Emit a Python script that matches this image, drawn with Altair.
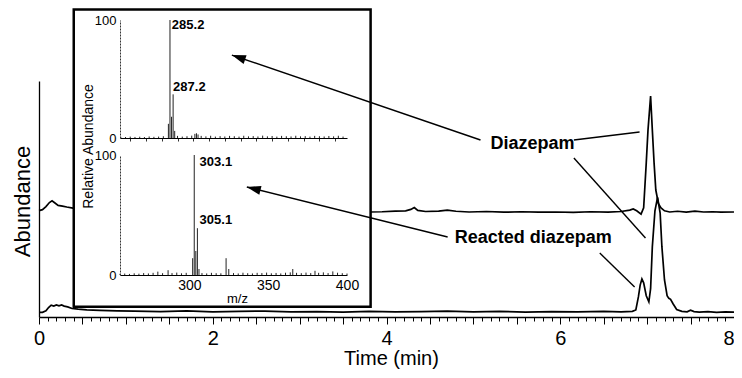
import altair as alt
import pandas as pd

FONT = "Liberation Sans"

# ---------------- main chromatogram (time in min, abundance in arbitrary %) -------------
UPPER_T = [0.00, 0.04, 0.08, 0.12, 0.15, 0.18, 0.22, 0.27, 0.32, 0.39, 3.81, 3.95, 4.10,
           4.22, 4.28, 4.32, 4.36, 4.45, 4.60, 4.70, 4.80, 4.95, 5.15, 5.35, 5.55, 5.75,
           5.95, 6.15, 6.35, 6.55, 6.70, 6.80, 6.84, 6.88, 6.93, 6.96, 6.99, 7.01, 7.04,
           7.06, 7.08, 7.10, 7.13, 7.16, 7.20, 7.26, 7.35, 7.45, 7.55, 7.65, 7.75, 7.85, 8.00]
UPPER_V = [45.1, 45.5, 46.8, 48.5, 49.2, 48.4, 47.3, 47.0, 46.6, 46.1, 44.5, 44.6, 44.9,
           45.0, 45.6, 46.4, 45.2, 44.7, 44.9, 45.3, 44.8, 44.5, 44.7, 44.4, 44.6, 44.4,
           44.5, 44.3, 44.6, 44.4, 44.7, 45.3, 45.8, 45.0, 43.6, 46.3, 65.3, 79.2, 93.6,
           79.2, 65.3, 53.8, 48.0, 46.2, 45.0, 44.5, 44.8, 44.4, 44.9, 44.5, 44.6, 44.4, 44.5]

LOWER_T = [0.00, 0.04, 0.08, 0.11, 0.14, 0.17, 0.20, 0.23, 0.26, 0.29, 0.33, 0.38, 0.45,
           0.55, 0.70, 0.90, 1.10, 1.40, 1.70, 2.00, 2.30, 2.60, 2.90, 3.20, 3.50, 3.80,
           4.10, 4.40, 4.70, 5.00, 5.30, 5.60, 5.90, 6.20, 6.50, 6.70, 6.83, 6.87, 6.90,
           6.92, 6.94, 6.96, 6.99, 7.02, 7.04, 7.06, 7.09, 7.12, 7.15, 7.17, 7.20, 7.23,
           7.25, 7.27, 7.30, 7.34, 7.40, 7.46, 7.50, 7.54, 7.60, 7.70, 7.80, 7.90, 8.00]
LOWER_V = [2.0, 2.0, 2.6, 4.0, 5.0, 4.6, 5.1, 4.7, 5.1, 4.6, 4.3, 3.6, 3.3,
           3.0, 2.8, 2.6, 2.5, 2.3, 2.6, 2.2, 2.4, 2.5, 2.2, 2.3, 2.1, 2.4,
           2.2, 2.3, 2.5, 2.2, 2.4, 2.1, 2.3, 2.2, 2.4, 2.2, 2.4, 3.0, 8.6,
           13.5, 16.1, 14.5, 9.0, 6.4, 12.0, 29.8, 45.0, 50.7, 44.0, 29.8, 15.7, 9.0,
           7.9, 7.5, 5.5, 3.2, 2.4, 2.2, 2.9, 2.3, 2.1, 2.3, 2.0, 2.2, 2.1]

COMPOUNDS = ["Diazepam", "Reacted diazepam"]
COMPOUND_T = [5.68, 5.69]
COMPOUND_V = [73.3, 33.5]

CALLOUT_T1 = [5.082, 6.157, 6.157, 4.704, 6.455]
CALLOUT_V1 = [75.0, 75.0, 67.4, 33.9, 27.1]
CALLOUT_T2 = [2.220, 6.913, 6.981, 2.392, 6.856]
CALLOUT_V2 = [111.0, 78.4, 33.5, 55.1, 12.7]

ARROW_T = [2.220, 2.392]
ARROW_V = [111.0, 55.1]
ARROW_ANGLE = [289, 284]

INSET_T = [0.40, 3.817]
INSET_V = [4.36, 130.3]

TIME_TICKS = [round(i * 0.1, 1) for i in range(81)]

# ---------------- inset mass spectra (m/z, relative abundance %) -----------------------
TOP_MZ = [254, 257, 260, 263, 266, 269, 272, 275, 278, 281, 284.2, 285.2, 286.2, 287.2,
          288.2, 290, 293, 296, 299, 301, 302, 303, 305, 308, 311, 314, 317, 320, 323,
          326, 329, 332, 335, 338, 341, 344, 347, 350, 353, 356, 359, 362, 365, 368,
          371, 374, 377, 380, 383, 386, 389, 392, 395]
TOP_INT = [1.0, 0.8, 1.2, 0.9, 1.1, 0.8, 1.3, 1.0, 1.2, 1.5, 12, 100, 18, 37,
           6, 1.8, 1.2, 1.5, 2.0, 3.5, 4.0, 3.0, 1.8, 1.4, 1.9, 1.2, 1.6, 1.3, 1.8,
           1.5, 1.2, 1.9, 1.4, 1.6, 1.3, 2.0, 1.4, 1.7, 1.2, 1.8, 1.5, 1.3, 1.9, 1.4,
           1.6, 1.2, 1.8, 1.5, 1.3, 1.7, 1.4, 1.9, 1.2]

BOT_MZ = [256, 259, 262, 265, 268, 271, 274, 277, 280, 283, 286.5, 289, 292, 295, 298,
          302.1, 303.1, 304.1, 305.1, 306.1, 308, 311, 314, 317, 320, 323.3, 325, 328,
          331, 334, 337, 340, 343, 346, 349, 352, 355, 358, 361, 364, 365.6, 368, 371,
          374, 377, 379.7, 382, 385, 388, 391, 394, 397, 400]
BOT_INT = [1.0, 1.2, 0.9, 1.4, 1.1, 1.6, 1.3, 1.8, 2.8, 1.5, 4.0, 1.6, 2.0, 1.4, 1.8,
           14, 100, 20, 39, 5, 1.6, 1.3, 1.8, 1.5, 1.4, 14, 5, 1.6,
           1.3, 1.9, 1.5, 1.3, 1.8, 1.6, 2.0, 1.4, 1.7, 1.3, 1.9, 2.2, 5.0, 1.8, 1.5,
           2.0, 1.6, 3.5, 1.8, 2.2, 1.6, 3.0, 1.9, 1.5, 1.2]

TOP_PEAK_LABELS = ["285.2", "287.2"]
TOP_PEAK_X = [286.4, 287.2]
TOP_PEAK_Y = [96, 43]
BOT_PEAK_LABELS = ["303.1", "305.1"]
BOT_PEAK_X = [306.5, 306.5]
BOT_PEAK_Y = [94, 46]

TOP_TICKS = [260, 270, 280, 290, 300, 310, 320, 330, 340, 350, 360, 370, 380, 390]
BOT_LABEL_VALUES = [300, 350, 400]

# ---------------- main layer ----------------
xs = alt.Scale(domain=[0, 8], nice=False, zero=False)
ys = alt.Scale(domain=[0, 100], nice=False, zero=False)

x_axis = alt.Axis(
    values=TIME_TICKS, title="Time (min)", grid=False,
    labelExpr="abs(datum.value/2 - round(datum.value/2)) < 0.001 ? format(datum.value, 'd') : ''",
    tickSize={"condition": {"test": "abs(datum.value*2 - round(datum.value*2)) < 0.001", "value": 7}, "value": 4},
    labelAlign={"condition": {"test": "datum.value > 7.95", "value": "right"}, "value": "center"},
    tickColor="black", tickWidth=1, domainColor="black", domainWidth=1.3,
    labelFont=FONT, labelFontSize=20, labelColor="black", labelPadding=4,
    labelOverlap=False, labelFlush=False, labelBound=False,
    titleFont=FONT, titleFontSize=20, titleFontWeight="normal", titleColor="black",
    titleX=352, titleY=47, titleAlign="center", titleBaseline="alphabetic",
)
y_axis = alt.Axis(
    title="Abundance", labels=False, ticks=False, grid=False,
    domainColor="black", domainWidth=1.3,
    titleFont=FONT, titleFontSize=22, titleFontWeight="normal", titleColor="black",
    titleAngle=270, titleX=-10, titleY=120, titleAlign="center", titleBaseline="alphabetic",
)

X = alt.X("t:Q", scale=xs, axis=x_axis)
Y = alt.Y("v:Q", scale=ys, axis=y_axis)

traces = pd.DataFrame({
    "t": UPPER_T + LOWER_T,
    "v": UPPER_V + LOWER_V,
    "trace": ["upper"] * len(UPPER_T) + ["lower"] * len(LOWER_T),
})
lines = alt.Chart(traces).mark_line(color="black", strokeWidth=1.7).encode(
    x=X, y=Y, detail="trace:N")

box_df = pd.DataFrame({"t": [INSET_T[0]], "t2": [INSET_T[1]], "v": [INSET_V[0]], "v2": [INSET_V[1]]})
box = alt.Chart(box_df).mark_rect(fill="white", stroke="black", strokeWidth=2.5).encode(
    x=X, x2="t2:Q", y=Y, y2="v2:Q")

callout_df = pd.DataFrame({"t": CALLOUT_T1, "v": CALLOUT_V1, "t2": CALLOUT_T2, "v2": CALLOUT_V2})
callouts = alt.Chart(callout_df).mark_rule(color="black", strokeWidth=1.4).encode(
    x=X, x2="t2:Q", y=Y, y2="v2:Q")

head_df = pd.DataFrame({"t": ARROW_T, "v": ARROW_V, "angle": ARROW_ANGLE})
heads = alt.Chart(head_df).mark_point(
    shape="M0,0L-0.65,2L0.65,2Z", filled=True, color="black", size=196, opacity=1, strokeWidth=0
).encode(x=X, y=Y, angle=alt.Angle("angle:Q", scale=None))

comp_df = pd.DataFrame({"t": COMPOUND_T, "v": COMPOUND_V, "label": COMPOUNDS})
comp_text = alt.Chart(comp_df).mark_text(
    font=FONT, fontSize=18, fontWeight="bold", color="black", align="center", baseline="middle"
).encode(x=X, y=Y, text="label:N")

main = alt.layer(lines, box, callouts, heads, comp_text)

# ---------------- inset panels ----------------
def inset_y_axis(title=None):
    kw = dict(orient="left", offset=-81, values=[0, 100], ticks=False, grid=False,
              domainColor="#333", domainWidth=1, domainDash=[2, 1],
              labelFont=FONT, labelFontSize=13, labelColor="black", labelPadding=4,
              labelFlush=False, labelOverlap=False, zindex=1)
    if title is None:
        kw["title"] = None
    else:
        kw.update(title=title, titleFont=FONT, titleFontSize=14, titleFontWeight="normal",
                  titleColor="black", titleAngle=270, titleX=-28, titleY=65,
                  titleAlign="center", titleBaseline="alphabetic")
    return alt.Axis(**kw)

# top spectrum
tx = alt.Scale(domain=[253.5, 397.5], range=[81, 308], nice=False, zero=False)
ty = alt.Scale(domain=[0, 100], range=[57, -61], nice=False, zero=False)
top_x_axis = alt.Axis(orient="bottom", offset=-179, values=TOP_TICKS, labels=False,
                      tickSize=3, tickColor="#333", domainColor="black", domainWidth=1,
                      grid=False, title=None, zindex=1)
top_y_axis = inset_y_axis()
TX = alt.X("mz:Q", scale=tx, axis=top_x_axis)
TY = alt.Y("rel:Q", scale=ty, axis=top_y_axis)

top_df = pd.DataFrame({"mz": TOP_MZ, "rel": TOP_INT})
top_sticks = alt.Chart(top_df).mark_rule(color="#222", strokeWidth=1).encode(
    x=TX, y=TY, y2=alt.datum(0))
top_lab_df = pd.DataFrame({"mz": TOP_PEAK_X, "rel": TOP_PEAK_Y, "label": TOP_PEAK_LABELS})
top_labels = alt.Chart(top_lab_df).mark_text(
    font=FONT, fontSize=13, fontWeight="bold", color="black", align="left", baseline="middle"
).encode(x=TX, y=TY, text="label:N")
top_panel = alt.layer(top_sticks, top_labels)

# bottom spectrum
bx = alt.Scale(domain=[256, 400], range=[81, 308], nice=False, zero=False)
by = alt.Scale(domain=[0, 100], range=[194, 74], nice=False, zero=False)
bot_x_axis = alt.Axis(orient="bottom", offset=-42, values=BOT_LABEL_VALUES, ticks=False,
                      domainColor="black", domainWidth=1, grid=False,
                      labelFont=FONT, labelFontSize=14, labelColor="black", labelPadding=3,
                      labelFlush=False, labelOverlap=False,
                      title="m/z", titleFont=FONT, titleFontSize=13, titleFontWeight="normal",
                      titleColor="black", titleX=198, titleY=27, titleAlign="center",
                      titleBaseline="alphabetic", zindex=1)
bot_y_axis = inset_y_axis("Relative Abundance")
BX = alt.X("mz:Q", scale=bx, axis=bot_x_axis)
BY = alt.Y("rel:Q", scale=by, axis=bot_y_axis)

bot_df = pd.DataFrame({"mz": BOT_MZ, "rel": BOT_INT})
bot_sticks = alt.Chart(bot_df).mark_rule(color="#222", strokeWidth=1).encode(
    x=BX, y=BY, y2=alt.datum(0))
bot_lab_df = pd.DataFrame({"mz": BOT_PEAK_X, "rel": BOT_PEAK_Y, "label": BOT_PEAK_LABELS})
bot_labels = alt.Chart(bot_lab_df).mark_text(
    font=FONT, fontSize=13, fontWeight="bold", color="black", align="left", baseline="middle"
).encode(x=BX, y=BY, text="label:N")
bot_panel = alt.layer(bot_sticks, bot_labels)

chart = alt.layer(main, top_panel, bot_panel).resolve_scale(
    x="independent", y="independent"
).properties(
    width=695, height=236,
    padding={"left": 31, "top": 73, "right": 0, "bottom": 53},
    autosize=alt.AutoSizeParams(type="none"),
    background="white",
).configure_view(stroke=None)

chart.save("out.html", embed_options={"renderer": "svg", "actions": False})
